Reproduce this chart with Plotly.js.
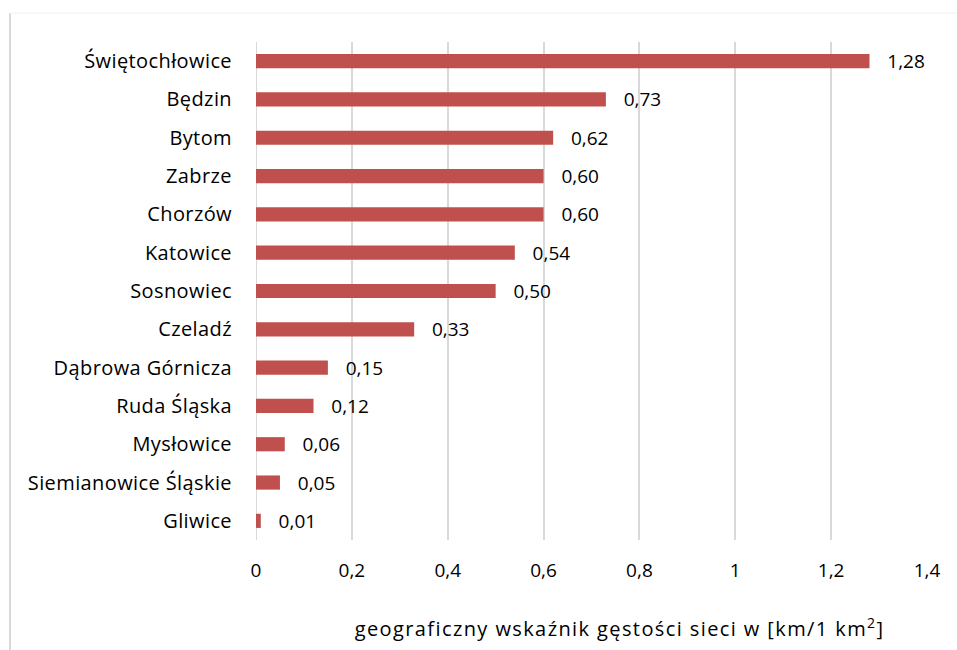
<!DOCTYPE html>
<html>
<head>
<meta charset="utf-8">
<script src="https://cdn.plot.ly/plotly-3.0.1.min.js"></script>
<style>
html,body{margin:0;padding:0;background:#fff;}
#chart{width:957px;height:650px;}
#chart .ytick text{letter-spacing:0.4px;}
#chart .annotation-text{letter-spacing:1.4px;}
</style>
</head>
<body>
<div id="chart"></div>
<script>
const categories = ["Świętochłowice","Będzin","Bytom","Zabrze","Chorzów","Katowice","Sosnowiec","Czeladź","Dąbrowa Górnicza","Ruda Śląska","Mysłowice","Siemianowice Śląskie","Gliwice"];
const values = [1.28,0.73,0.62,0.60,0.60,0.54,0.50,0.33,0.15,0.12,0.06,0.05,0.01];
const xTickVals = [0,0.2,0.4,0.6,0.8,1,1.2,1.4];
const axisTitle = "geograficzny wskaźnik gęstości sieci w [km/1 km<sup>2</sup>]";

const FONT = "'Open Sans', Lato, sans-serif";

const trace = {
  type: "bar",
  orientation: "h",
  x: values,
  y: categories,
  marker: {color: "#c0504d"},
  texttemplate: "   %{x:.2f}",
  textposition: "outside",
  constraintext: "none",
  cliponaxis: false,
  textfont: {family: FONT, size: 19, color: "#000"},
  outsidetextfont: {family: FONT, size: 19, color: "#000"},
  hoverinfo: "x+y"
};

const layout = {
  width: 957, height: 650,
  margin: {l: 256, r: 30, t: 42, b: 110},
  paper_bgcolor: "#fff", plot_bgcolor: "#fff",
  separators: ", ",
  font: {family: FONT, size: 19, color: "#000"},
  showlegend: false,
  bargap: 0.63,
  xaxis: {
    range: [0, 1.4],
    tickvals: xTickVals,
    showgrid: true, gridcolor: "#d9d9d9", gridwidth: 2,
    zeroline: false, showline: false,
    ticks: "outside", ticklen: 13, tickcolor: "rgba(0,0,0,0)",
    tickfont: {family: FONT, size: 19, color: "#000"},
    fixedrange: true
  },
  yaxis: {
    autorange: "reversed",
    showgrid: false, zeroline: false, showline: false,
    ticks: "outside", ticklen: 19, tickcolor: "rgba(0,0,0,0)",
    tickfont: {family: FONT, size: 20, color: "#000"},
    fixedrange: true
  },
  annotations: [{
    text: axisTitle,
    xref: "paper", yref: "paper",
    x: 0.542, y: -0.176,
    xanchor: "center", yanchor: "middle",
    showarrow: false,
    font: {family: FONT, size: 20, color: "#000"}
  }],
  shapes: [
    {type: "line", xref: "paper", yref: "paper", x0: -0.3666, x1: -0.3666, y0: 1.058, y1: -0.23, line: {color: "#d9d9d9", width: 2}},
    {type: "line", xref: "paper", yref: "paper", x0: -0.3666, x1: 1.05, y0: 1.058, y1: 1.058, line: {color: "#f0f0f0", width: 1}},
    {type: "line", xref: "x", yref: "paper", x0: 0, x1: 0, y0: 0, y1: 1, line: {color: "#d9d9d9", width: 2}, layer: "below"}
  ]
};

Plotly.newPlot("chart", [trace], layout, {displayModeBar: false, staticPlot: true});
</script>
</body>
</html>
